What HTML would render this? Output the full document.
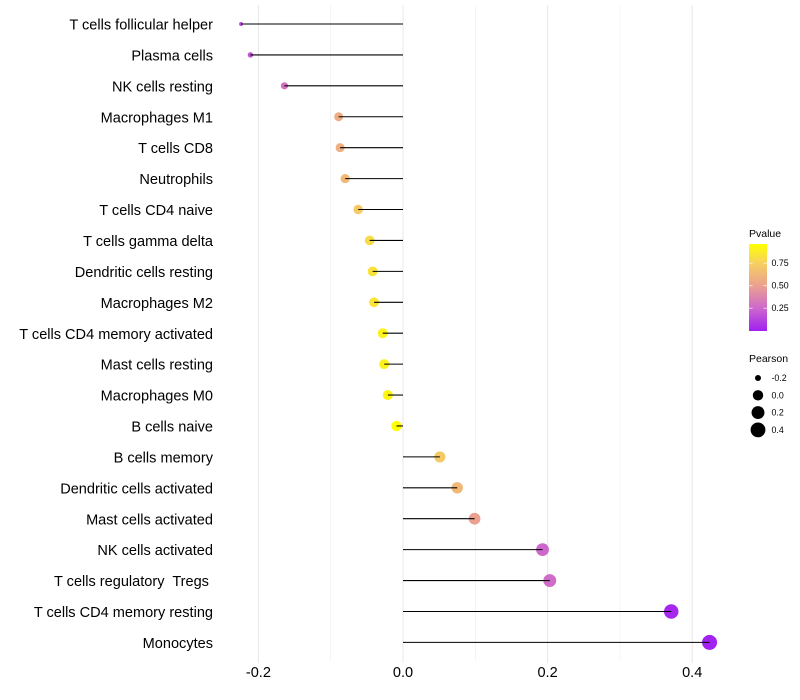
<!DOCTYPE html>
<html lang="en">
<head>
<meta charset="utf-8">
<title>Lollipop chart of immune cell correlation</title>
<style>
html,body{margin:0;padding:0;background:#fff;width:800px;height:700px;overflow:hidden}
svg{display:block;font-family:"Liberation Sans",sans-serif}
</style>
</head>
<body>
<svg id="chart" width="800" height="700" viewBox="0 0 800 700" xmlns="http://www.w3.org/2000/svg">
  <defs>
    <linearGradient id="pvalue-gradient" x1="0" y1="1" x2="0" y2="0">
      <stop offset="0" stop-color="#a020f0"/>
      <stop offset="0.26" stop-color="#cc68cc"/>
      <stop offset="0.52" stop-color="#eba090"/>
      <stop offset="0.78" stop-color="#f6d060"/>
      <stop offset="1" stop-color="#ffff00"/>
    </linearGradient>
  </defs>
  <g id="grid"></g>
  <g id="marks"></g>
  <g id="y-labels"></g>
  <g id="x-labels"></g>
  <g>
    <text x="749" y="237" font-size="10.5" fill="#000">Pvalue</text>
    <rect x="749" y="244" width="18" height="87" fill="url(#pvalue-gradient)"/>
    <g id="color-ticks"></g>
  </g>
  <g>
    <text x="749" y="362" font-size="10.5" fill="#000">Pearson</text>
    <g id="size-keys"></g>
  </g>
</svg>
<script>
const categories = ["T cells follicular helper","Plasma cells","NK cells resting","Macrophages M1","T cells CD8","Neutrophils","T cells CD4 naive","T cells gamma delta","Dendritic cells resting","Macrophages M2","T cells CD4 memory activated","Mast cells resting","Macrophages M0","B cells naive","B cells memory","Dendritic cells activated","Mast cells activated","NK cells activated","T cells regulatory  Tregs ","T cells CD4 memory resting","Monocytes"];
const pearsonValues = [-0.224,-0.211,-0.164,-0.089,-0.087,-0.080,-0.062,-0.046,-0.042,-0.040,-0.028,-0.026,-0.021,-0.009,0.051,0.075,0.099,0.193,0.203,0.371,0.424];
const pValues = [0.15,0.18,0.30,0.56,0.58,0.63,0.72,0.80,0.83,0.84,0.90,0.90,0.92,0.96,0.72,0.63,0.50,0.25,0.27,0.03,0.01];
const xMajorTicks = [-0.2,0.0,0.2,0.4];
const xMinorTicks = [-0.1,0.1,0.3];
const pvalueTicks = [0.25,0.50,0.75];
const pearsonKeys = [-0.2,0.0,0.2,0.4];

const NS = "http://www.w3.org/2000/svg";
const xScale = v => 403 + v * 723;
const yScale = i => 24 + i * 30.92;
const pY = p => 330.7 - p * 90;
const pearsonMin = Math.min(...pearsonValues);
const pearsonMax = Math.max(...pearsonValues);
function radius(v) {
  const root = Math.sqrt(Math.max(0, (v - pearsonMin) / (pearsonMax - pearsonMin)));
  return 1.25 * (1 + 5 * root) + 0.7 * (1 - root);
}
const stops = [[0,[160,32,240]],[0.25,[204,104,204]],[0.5,[235,160,144]],[0.75,[246,208,96]],[0.96,[255,255,0]]];
function pColor(p) {
  for (let k = 1; k < stops.length; k++) {
    if (p <= stops[k][0]) {
      const t = (p - stops[k-1][0]) / (stops[k][0] - stops[k-1][0]);
      const c = stops[k-1][1].map((a, j) => Math.round(a + (stops[k][1][j] - a) * t));
      return "rgb(" + c.join(",") + ")";
    }
  }
  return "rgb(255,255,0)";
}
function make(tag, attrs, parent, text) {
  const el = document.createElementNS(NS, tag);
  for (const key in attrs) el.setAttribute(key, attrs[key]);
  if (text !== undefined) el.textContent = text;
  parent.appendChild(el);
  return el;
}
const grid = document.getElementById("grid");
const marks = document.getElementById("marks");
const yLabels = document.getElementById("y-labels");
const xLabels = document.getElementById("x-labels");
const colorTicks = document.getElementById("color-ticks");
const sizeKeys = document.getElementById("size-keys");

xMinorTicks.forEach(t => {
  const el = make("line", {x1:xScale(t), x2:xScale(t), y1:5, y2:660, stroke:"#ededed", "stroke-width":0.6}, grid);
  
  
});
xMajorTicks.forEach(t => {
  const el = make("line", {x1:xScale(t), x2:xScale(t), y1:5, y2:663, stroke:"#e8e8e8", "stroke-width":1}, grid);
  
  
  const label = make("text", {x:xScale(t), y:677, "text-anchor":"middle", "font-size":14.55, fill:"#000"}, xLabels, t.toFixed(1));
  
  
});
categories.forEach((name, i) => {
  const y = yScale(i);
  const label = make("text", {x:213, y:y + 5.55, "text-anchor":"end", "font-size":14.55, fill:"#000", style:"white-space:pre"}, yLabels, name);
  
  
  const dot = make("circle", {cx:xScale(pearsonValues[i]), cy:y, r:radius(pearsonValues[i]), fill:pColor(pValues[i])}, marks);
  
  
});
categories.forEach((name, i) => {
  const y = yScale(i);
  const stem = make("line", {x1:xScale(0), x2:xScale(pearsonValues[i]), y1:y, y2:y, stroke:"#000", "stroke-width":1.07}, marks);
  
  
});
pvalueTicks.forEach(p => {
  const left = make("line", {x1:749, x2:752.6, y1:pY(p), y2:pY(p), stroke:"#fff", "stroke-opacity":0.8, "stroke-width":0.8}, colorTicks);
  
  
  const right = make("line", {x1:763.4, x2:767, y1:pY(p), y2:pY(p), stroke:"#fff", "stroke-opacity":0.8, "stroke-width":0.8}, colorTicks);
  
  
  const label = make("text", {x:771.5, y:pY(p) + 3, "font-size":8.8, fill:"#000"}, colorTicks, p.toFixed(2));
  
  
});
pearsonKeys.forEach((v, i) => {
  const y = 378 + i * 17.3;
  const key = make("circle", {cx:758, cy:y, r:radius(v), fill:"#000"}, sizeKeys);
  
  
  const label = make("text", {x:771.5, y:y + 3, "font-size":8.8, fill:"#000"}, sizeKeys, v.toFixed(1));
  
  
});
</script>
</body>
</html>
